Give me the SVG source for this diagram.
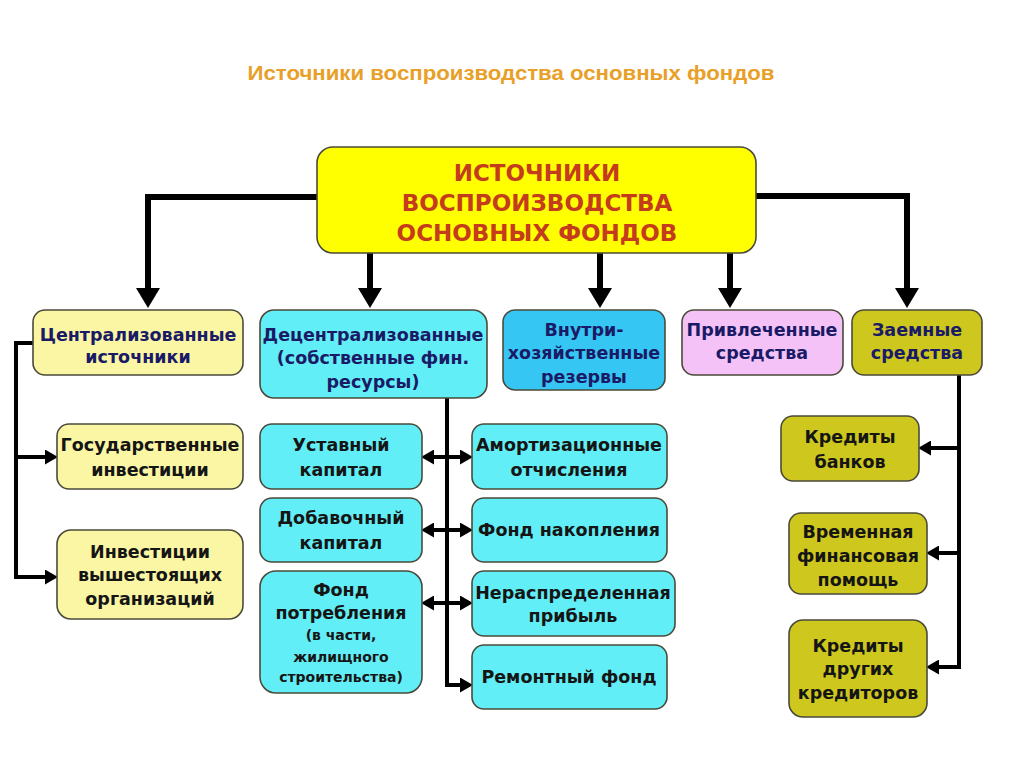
<svg xmlns="http://www.w3.org/2000/svg" width="1024" height="767" viewBox="0 0 1024 767">
<defs>
<style>
.t{font-family:"DejaVu Sans","Liberation Sans",sans-serif;font-weight:bold;text-anchor:middle}
.n{font-size:17.5px;fill:#1a1a66}
.b{font-size:17.5px;fill:#151515}
.s{font-size:14px;fill:#151515}
.box{stroke:#4a4a3a;stroke-width:1.6}
.c{fill:none;stroke:#000;stroke-linejoin:miter}
</style>
<marker id="big" markerUnits="userSpaceOnUse" viewBox="0 0 20 24" markerWidth="20" markerHeight="24" refX="10" refY="12" orient="auto">
<path d="M0,0 L20,12 L0,24 z" fill="#000"/>
</marker>
<marker id="sm" markerUnits="userSpaceOnUse" viewBox="0 0 13 15" markerWidth="13" markerHeight="15" refX="6" refY="7.5" orient="auto-start-reverse">
<path d="M0,0 L13,7.5 L0,15 z" fill="#000"/>
</marker>
</defs>
<rect width="1024" height="767" fill="#ffffff"/>
<text x="511" y="80" textLength="527" lengthAdjust="spacingAndGlyphs" style="font-family:'Liberation Sans',Arial,sans-serif;font-weight:bold;text-anchor:middle;font-size:21px;fill:#e8a028">Источники воспроизводства основных фондов</text>

<g id="connectors">
<path class="c" stroke-width="6" d="M318,197 H148 V298" marker-end="url(#big)"/>
<path class="c" stroke-width="6" d="M370,253 V298" marker-end="url(#big)"/>
<path class="c" stroke-width="6" d="M600,253 V298" marker-end="url(#big)"/>
<path class="c" stroke-width="6" d="M730,253 V298" marker-end="url(#big)"/>
<path class="c" stroke-width="6" d="M755,196 H907 V298" marker-end="url(#big)"/>
<path class="c" stroke-width="4" d="M33,343 H16 V577 H51" marker-end="url(#sm)"/>
<path class="c" stroke-width="4" d="M16,457 H51" marker-end="url(#sm)"/>
<path class="c" stroke-width="4" d="M447,398 V685 H466" marker-end="url(#sm)"/>
<path class="c" stroke-width="4" d="M428,457 H466" marker-start="url(#sm)" marker-end="url(#sm)"/>
<path class="c" stroke-width="4" d="M428,530 H466" marker-start="url(#sm)" marker-end="url(#sm)"/>
<path class="c" stroke-width="4" d="M428,603 H466" marker-start="url(#sm)" marker-end="url(#sm)"/>
<path class="c" stroke-width="4" d="M959,375 V667 H933" marker-end="url(#sm)"/>
<path class="c" stroke-width="4" d="M959,448 H925" marker-end="url(#sm)"/>
<path class="c" stroke-width="4" d="M959,553 H933" marker-end="url(#sm)"/>
</g>

<g id="main">
<rect class="box" x="317" y="147" width="439" height="106" rx="16" fill="#ffff00"/>
<text class="t" style="font-size:23px;fill:#c43c1c"><tspan x="537" y="181">ИСТОЧНИКИ</tspan><tspan x="537" y="211">ВОСПРОИЗВОДСТВА</tspan><tspan x="537" y="241">ОСНОВНЫХ ФОНДОВ</tspan></text>
</g>

<g id="centralized">
<rect class="box" x="33" y="310" width="210" height="65" rx="12" fill="#faf6a4"/>
<text class="t n"><tspan x="138" y="341">Централизованные</tspan><tspan x="138" y="363">источники</tspan></text>
</g>
<g id="decentralized">
<rect class="box" x="260" y="310" width="227" height="88" rx="14" fill="#62eef6"/>
<text class="t n"><tspan x="373" y="341">Децентрализованные</tspan><tspan x="373" y="364">(собственные фин.</tspan><tspan x="373" y="388">ресурсы)</tspan></text>
</g>
<g id="internal">
<rect class="box" x="503" y="310" width="162" height="80" rx="12" fill="#36c6f4"/>
<text class="t n"><tspan x="584" y="336">Внутри-</tspan><tspan x="584" y="359">хозяйственные</tspan><tspan x="584" y="383">резервы</tspan></text>
</g>
<g id="attracted">
<rect class="box" x="682" y="310" width="161" height="65" rx="12" fill="#f4c2f6"/>
<text class="t n"><tspan x="762" y="336">Привлеченные</tspan><tspan x="762" y="359">средства</tspan></text>
</g>
<g id="borrowed">
<rect class="box" x="852" y="310" width="130" height="65" rx="12" fill="#cdc71e"/>
<text class="t n"><tspan x="917" y="336">Заемные</tspan><tspan x="917" y="359">средства</tspan></text>
</g>

<g id="state-inv">
<rect class="box" x="57" y="424" width="186" height="65" rx="12" fill="#faf6a4"/>
<text class="t b"><tspan x="150" y="451">Государственные</tspan><tspan x="150" y="476">инвестиции</tspan></text>
</g>
<g id="higher-inv">
<rect class="box" x="57" y="530" width="186" height="89" rx="14" fill="#faf6a4"/>
<text class="t b"><tspan x="150" y="558">Инвестиции</tspan><tspan x="150" y="581">вышестоящих</tspan><tspan x="150" y="605">организаций</tspan></text>
</g>

<g id="charter">
<rect class="box" x="260" y="424" width="162" height="65" rx="12" fill="#62eef6"/>
<text class="t b"><tspan x="341" y="451">Уставный</tspan><tspan x="341" y="476">капитал</tspan></text>
</g>
<g id="additional">
<rect class="box" x="260" y="498" width="162" height="64" rx="12" fill="#62eef6"/>
<text class="t b"><tspan x="341" y="524">Добавочный</tspan><tspan x="341" y="549">капитал</tspan></text>
</g>
<g id="consumption">
<rect class="box" x="260" y="571" width="162" height="122" rx="16" fill="#62eef6"/>
<text class="t b"><tspan x="341" y="596">Фонд</tspan><tspan x="341" y="619">потребления</tspan></text>
<text class="t s"><tspan x="341" y="640">(в части,</tspan><tspan x="341" y="662">жилищного</tspan><tspan x="341" y="682">строительства)</tspan></text>
</g>

<g id="depreciation">
<rect class="box" x="472" y="424" width="195" height="65" rx="12" fill="#62eef6"/>
<text class="t b"><tspan x="569" y="451">Амортизационные</tspan><tspan x="569" y="476">отчисления</tspan></text>
</g>
<g id="accumulation">
<rect class="box" x="472" y="498" width="195" height="64" rx="12" fill="#62eef6"/>
<text class="t b" x="569" y="536">Фонд накопления</text>
</g>
<g id="retained">
<rect class="box" x="472" y="571" width="203" height="65" rx="12" fill="#62eef6"/>
<text class="t b"><tspan x="573" y="599">Нераспределенная</tspan><tspan x="573" y="622">прибыль</tspan></text>
</g>
<g id="repair">
<rect class="box" x="472" y="645" width="195" height="64" rx="12" fill="#62eef6"/>
<text class="t b" x="569" y="683">Ремонтный фонд</text>
</g>

<g id="bank-credits">
<rect class="box" x="781" y="416" width="138" height="65" rx="12" fill="#cdc71e"/>
<text class="t b"><tspan x="850" y="443">Кредиты</tspan><tspan x="850" y="468">банков</tspan></text>
</g>
<g id="temp-aid">
<rect class="box" x="789" y="513" width="138" height="81" rx="12" fill="#cdc71e"/>
<text class="t b"><tspan x="858" y="538">Временная</tspan><tspan x="858" y="562">финансовая</tspan><tspan x="858" y="586">помощь</tspan></text>
</g>
<g id="other-credits">
<rect class="box" x="789" y="620" width="138" height="97" rx="14" fill="#cdc71e"/>
<text class="t b"><tspan x="858" y="652">Кредиты</tspan><tspan x="858" y="675">других</tspan><tspan x="858" y="699">кредиторов</tspan></text>
</g>
</svg>
